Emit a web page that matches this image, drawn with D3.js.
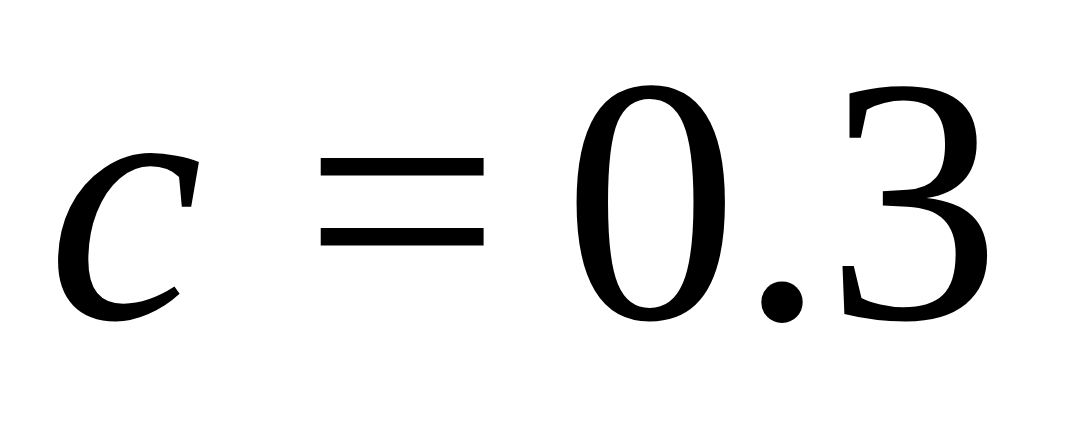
<!DOCTYPE html>
<html>
<head>
<meta charset="utf-8">
<script src="https://cdn.jsdelivr.net/npm/d3@7"></script>
<style>
  html, body { margin: 0; padding: 0; background: #fff; }
</style>
</head>
<body>
<div id="chart"></div>
<script>
// pieces of the expression
var symbols = ["c", "=", "0.3"];
var styles = ["italic", "normal", "normal"];
var centers = [125, 402, 782];

var width = 1080, height = 421;
var fontSize = 350;
var baseline = 318;

var svg = d3.select("#chart").append("svg")
    .attr("width", width)
    .attr("height", height);

svg.selectAll("text.part")
    .data(symbols)
    .enter().append("text")
    .attr("class", "part")
    .attr("x", function (d, i) { return centers[i]; })
    .attr("y", baseline)
    .attr("text-anchor", "middle")
    .attr("font-family", "Times New Roman, Tinos, serif")
    .attr("font-weight", 400)
    .attr("font-size", fontSize)
    .attr("font-style", function (d, i) { return styles[i]; })
    .attr("fill", "#000")
    .text(function (d) { return d; });
</script>
</body>
</html>
